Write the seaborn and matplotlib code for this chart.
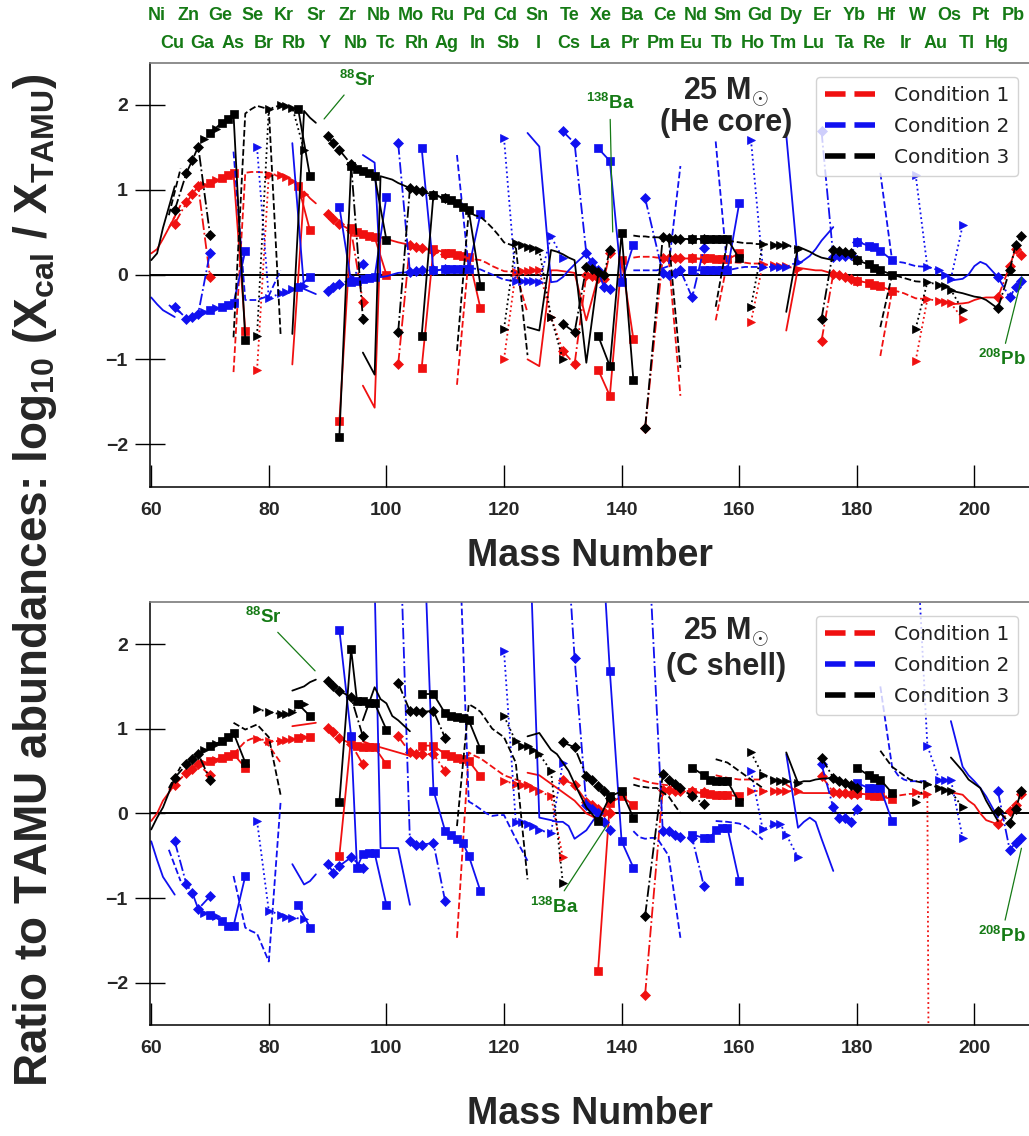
# Isotopic ratio chains for the two 25 Msun zones, three conditions each

import matplotlib
matplotlib.use("Agg")
import matplotlib.pyplot as plt
import seaborn as sns
from matplotlib.lines import Line2D
import numpy as np

# ---- data -------------------------------------------------------------
ELEMENTS = ["Ni", "Cu", "Zn", "Ga", "Ge", "Se", "Kr", "Rb", "Sr", "Zr", "Mo",
            "Ru", "Pd", "Cd", "Sn", "Te", "Xe", "Ba", "Ce", "Nd", "Sm", "Gd",
            "Dy", "Er", "Yb", "Hf", "W", "Os", "Pt", "Hg", "Pb"]

MASSES = [
    [60, 61, 62, 64], [63, 65], [64, 66, 67, 68, 70], [69, 71],
    [70, 72, 73, 74, 76], [74, 76, 77, 78, 80, 82], [78, 80, 82, 83, 84, 86],
    [85, 87], [84, 86, 87, 88], [90, 91, 92, 94, 96],
    [92, 94, 95, 96, 97, 98, 100], [96, 98, 99, 100, 101, 102, 104],
    [102, 104, 105, 106, 108, 110], [106, 108, 110, 111, 112, 113, 114, 116],
    [112, 114, 115, 116, 117, 118, 119, 120, 122, 124],
    [120, 122, 123, 124, 125, 126, 128, 130],
    [124, 126, 128, 129, 130, 131, 132, 134, 136],
    [130, 132, 134, 135, 136, 137, 138], [136, 138, 140, 142],
    [142, 143, 144, 145, 146, 148, 150], [144, 147, 148, 149, 150, 152, 154],
    [152, 154, 155, 156, 157, 158, 160], [156, 158, 160, 161, 162, 163, 164],
    [162, 164, 166, 167, 168, 170], [168, 170, 171, 172, 173, 174, 176],
    [174, 176, 177, 178, 179, 180], [180, 182, 183, 184, 186],
    [184, 186, 187, 188, 189, 190, 192], [190, 192, 194, 195, 196, 198],
    [196, 198, 199, 200, 201, 202, 204], [204, 206, 207, 208],
]

# He core
HE_COND1 = [
    [0.25, 0.3, 0.42, 0.68], [0.55, 0.82], [0.6, 0.85, 0.95, 1.04, -0.03], [1.06, 1.12],
    [1.08, 1.14, 1.17, 1.2, -0.66], [-1.15, 1.2, 1.21, 1.21, 1.2, 1.15],
    [-1.13, 1.18, 1.18, 1.15, 1.1, 0.95], [1.05, 0.52], [-1.06, 0.98, 0.9, 0.84],
    [0.72, 0.66, 0.6, 0.52, -0.32], [-1.73, 0.55, 0.5, 0.48, 0.46, 0.44, 0.0],
    [-1.31, -1.57, 0.44, 0.42, 0.4, 0.38, 0.35], [-1.06, 0.35, 0.33, 0.31, 0.28, 0.24],
    [-1.1, 0.3, 0.26, 0.25, 0.23, 0.22, 0.21, -0.4],
    [-1.3, 0.2, 0.18, 0.17, 0.14, 0.1, 0.07, 0.04, 0.03, -0.45],
    [-1.0, 0.03, 0.04, 0.04, 0.05, 0.05, -0.5, -0.9],
    [-1.0, -1.08, 0.05, 0.05, 0.04, 0.03, 0.02, -0.54, -0.03],
    [-0.9, -1.06, 0.0, -0.02, -0.04, -0.05, 0.25], [-1.12, -1.43, 0.17, -0.76],
    [0.2, 0.21, 0.21, 0.21, 0.2, 0.2, -1.43], [-1.81, 0.2, 0.2, 0.19, 0.19, 0.19, 0.18],
    [0.19, 0.19, 0.19, 0.18, 0.18, 0.18, 0.25], [-0.54, 0.15, 0.14, 0.14, 0.13, 0.13, 0.13],
    [-0.56, 0.12, 0.11, 0.1, 0.1, 0.06], [-0.66, 0.08, 0.07, 0.06, 0.05, 0.05, 0.01],
    [-0.78, 0.01, -0.01, -0.03, -0.05, -0.07], [-0.07, -0.1, -0.12, -0.14, -0.19],
    [-0.96, -0.19, -0.2, -0.22, -0.25, -0.28, -0.29],
    [-1.02, -0.29, -0.31, -0.32, -0.34, -0.52],
    [-0.35, -0.34, -0.33, -0.3, -0.28, -0.27, -0.27], [-0.27, 0.1, 0.3, 0.23],
]
HE_COND2 = [
    [-0.27, -0.35, -0.42, -0.5], [-0.36, -0.45], [-0.38, -0.52, -0.5, -0.46, 0.26],
    [-0.44, -0.4], [-0.42, -0.38, -0.36, -0.34, 0.28], [1.45, -0.3, -0.3, -0.3, -0.25, 0.05],
    [1.5, -0.28, -0.22, -0.2, -0.17, -0.14], [-0.15, -0.03], [1.55, -0.17, -0.2, -0.23],
    [-0.19, -0.15, -0.11, -0.06, 0.13], [0.8, -0.09, -0.07, -0.05, -0.04, -0.03, 0.92],
    [1.41, 1.32, -0.03, -0.02, 0.0, 0.02, 0.03], [1.55, 0.03, 0.04, 0.05, 0.05, 0.06],
    [1.49, 0.05, 0.06, 0.06, 0.07, 0.07, 0.07, 0.72],
    [1.41, 0.07, 0.07, 0.06, 0.03, 0.0, -0.03, -0.06, -0.08, -0.1],
    [1.61, -0.07, -0.07, -0.08, -0.08, -0.09, 0.45, 0.19],
    [1.67, 1.51, -0.09, -0.08, -0.03, 0.05, 0.12, 0.25, 0.0],
    [1.69, 1.55, 0.25, 0.15, 0.05, -0.15, -0.17], [1.49, 1.34, -0.09, 0.35],
    [0.05, 0.05, 0.05, 0.05, 0.05, 0.1, 1.28], [0.9, 0.02, 0.0, 0.02, 0.05, -0.27, 0.31],
    [0.05, 0.05, 0.05, 0.05, 0.05, 0.05, 0.84], [1.57, 0.05, 0.08, 0.09, 0.09, 0.09, 0.09],
    [1.59, 0.09, 0.09, 0.09, 0.09, 0.15], [1.65, 0.12, 0.17, 0.22, 0.3, 0.4, 0.56],
    [1.69, 0.21, 0.22, 0.22, 0.23, 0.39], [0.39, 0.34, 0.32, 0.28, 0.17],
    [1.2, 0.17, 0.15, 0.14, 0.12, 0.1, 0.09], [1.18, 0.09, 0.05, 0.0, -0.05, 0.58],
    [-0.07, -0.05, 0.0, 0.1, 0.15, 0.12, -0.03], [-0.03, -0.27, -0.15, -0.07],
]
HE_COND3 = [
    [0.17, 0.25, 0.55, 1.04], [0.7, 1.25], [0.76, 1.2, 1.35, 1.51, 0.47], [1.6, 1.72],
    [1.67, 1.79, 1.84, 1.89, -0.77], [-0.74, 1.9, 1.95, 1.99, 1.95, -0.7],
    [-0.72, 1.95, 2.0, 1.99, 1.97, 1.47], [1.95, 1.16], [-0.7, 1.93, 1.85, 1.79],
    [1.63, 1.55, 1.47, 1.3, -0.52], [-1.91, 1.28, 1.25, 1.22, 1.2, 1.16, 0.41],
    [-0.92, -1.18, 1.16, 1.14, 1.12, 1.08, 1.02], [-0.68, 1.02, 1.0, 0.98, 0.94, 0.9],
    [-0.72, 0.94, 0.9, 0.88, 0.84, 0.8, 0.76, -0.13],
    [-0.9, 0.74, 0.7, 0.68, 0.62, 0.55, 0.47, 0.38, 0.33, -0.95],
    [-0.64, 0.37, 0.35, 0.33, 0.31, 0.29, -0.5, -1.0],
    [-0.62, -0.66, 0.29, 0.27, 0.24, 0.2, 0.17, -1.04, 0.0],
    [-0.58, -0.68, 0.09, 0.06, 0.03, 0.0, 0.29], [-0.72, -1.08, 0.49, -1.24],
    [0.46, 0.45, 0.45, 0.44, 0.44, 0.43, -1.1], [-1.81, 0.44, 0.43, 0.42, 0.42, 0.42, 0.42],
    [0.42, 0.42, 0.42, 0.42, 0.42, 0.42, 0.19], [-0.38, 0.4, 0.38, 0.37, 0.37, 0.36, 0.36],
    [-0.38, 0.36, 0.35, 0.35, 0.35, 0.3], [-0.44, 0.33, 0.3, 0.27, 0.23, 0.2, 0.17],
    [-0.52, 0.29, 0.28, 0.27, 0.25, 0.17], [0.17, 0.12, 0.08, 0.05, 0.0],
    [-0.62, 0.0, -0.02, -0.04, -0.06, -0.08, -0.09],
    [-0.64, -0.09, -0.12, -0.14, -0.18, -0.42],
    [-0.19, -0.22, -0.24, -0.26, -0.27, -0.3, -0.4], [-0.4, 0.05, 0.35, 0.45],
]

# C shell
CSH_COND1 = [
    [-0.09, 0.0, 0.15, 0.34], [0.28, 0.45], [0.34, 0.48, 0.53, 0.58, 0.45], [0.6, 0.63],
    [0.62, 0.66, 0.68, 0.7, 0.54], [0.7, 0.85, 0.88, 0.9, 0.8, 0.6],
    [0.88, 0.86, 0.85, 0.87, 0.88, 0.9], [0.89, 0.9], [1.03, 1.05, 1.06, 1.07],
    [1.01, 0.96, 0.89, 0.82, 0.58], [-0.5, 0.9, 0.8, 0.78, 0.78, 0.78, 0.58],
    [0.85, 0.8, 0.78, 0.76, 0.74, 0.72, 0.68], [0.91, 0.72, 0.7, 0.7, 0.7, 0.5],
    [0.8, 0.8, 0.7, 0.68, 0.66, 0.64, 0.62, 0.44],
    [-1.47, 0.72, 0.68, 0.65, 0.6, 0.55, 0.5, 0.45, 0.4, 0.35],
    [0.38, 0.35, 0.34, 0.33, 0.3, 0.26, 0.2, -0.52],
    [0.48, 0.45, 0.35, 0.3, 0.25, 0.2, 0.15, 0.0, -0.07],
    [0.4, 0.34, 0.14, 0.1, 0.05, 0.02, 0.0], [-1.86, 0.12, 0.2, 0.1],
    [0.42, 0.4, 0.38, 0.36, 0.35, 0.33, 0.3], [-2.14, 0.28, 0.28, 0.27, 0.27, 0.26, 0.25],
    [0.25, 0.24, 0.23, 0.22, 0.22, 0.22, 0.2], [0.45, 0.42, 0.4, 0.4, 0.4, 0.4, 0.4],
    [0.26, 0.26, 0.26, 0.26, 0.26, 0.26], [0.34, 0.25, 0.24, 0.24, 0.24, 0.24, 0.24],
    [0.44, 0.25, 0.24, 0.24, 0.23, 0.23], [0.24, 0.22, 0.21, 0.2, 0.17],
    [0.2, 0.2, 0.21, 0.22, 0.23, 0.23, 0.23], [0.25, 0.23, -30.0, -30.0, -30.0, -30.0],
    [0.25, 0.22, 0.15, 0.1, 0.0, -0.08, -0.13], [-0.13, 0.03, 0.1, 0.23],
]
CSH_COND2 = [
    [-0.33, -0.55, -0.75, -0.96], [-0.43, -0.8], [-0.33, -0.84, -0.94, -1.13, -0.98],
    [-1.18, -1.21], [-1.2, -1.27, -1.33, -1.33, -0.74],
    [-0.74, -1.35, -1.39, -1.42, -1.75, 0.13], [-0.09, -1.15, -1.2, -1.22, -1.23, -1.25],
    [-1.08, -1.35], [-0.6, -0.84, -0.8, -0.72], [-0.6, -0.7, -0.62, -0.52, -0.64],
    [2.17, 0.91, -0.64, -0.48, -0.47, -0.47, -1.08],
    [4.0, 2.7, -0.41, -0.41, -0.41, -0.41, -1.08], [4.0, -0.33, -0.37, -0.37, -0.35, -1.04],
    [4.0, 0.27, -0.21, -0.25, -0.3, -0.35, -0.5, -0.92],
    [4.0, 0.14, 0.1, 0.05, 0.0, -0.03, -0.02, -0.02, -0.3, -0.56],
    [1.92, -0.1, -0.1, -0.12, -0.15, -0.2, -0.23, 0.6],
    [4.0, -0.05, -0.08, -0.1, -0.1, -0.15, -0.3, -0.2, 0.0],
    [4.0, 1.84, 0.1, 0.05, 0.0, -0.1, -0.2], [4.0, 1.68, -0.33, -0.64],
    [-0.21, -0.28, -0.3, -0.29, -0.29, -0.5, -1.47],
    [4.0, -0.21, -0.21, -0.25, -0.28, -0.29, -0.86],
    [-0.25, -0.29, -0.29, -0.2, -0.17, -0.17, -0.8],
    [-0.09, -0.1, -0.12, -0.15, -0.2, -0.25, -0.31], [0.5, -0.19, -0.13, -0.13, -0.25, -0.52],
    [0.7, -0.17, -0.1, -0.05, -0.1, -0.3, -0.68], [0.58, 0.07, -0.05, -0.05, -0.1, 0.05],
    [0.36, 0.3, 0.3, 0.3, -0.09], [1.5, 0.55, 0.45, 0.4, 0.38, 0.38, 0.38],
    [3.5, 0.8, 0.4, 0.4, 0.4, -0.29], [1.09, 0.55, 0.45, 0.38, 0.3, 0.2, -0.05],
    [0.26, -0.43, -0.35, -0.29],
]
CSH_COND3 = [
    [-0.19, -0.05, 0.07, 0.42], [0.3, 0.55], [0.42, 0.58, 0.64, 0.7, 0.4], [0.75, 0.82],
    [0.8, 0.85, 0.9, 0.95, 0.6], [1.07, 0.99, 1.02, 1.05, 0.9, 0.22],
    [1.23, 1.2, 1.17, 1.17, 1.2, 1.29], [1.29, 1.15], [1.45, 1.5, 1.55, 1.58],
    [1.56, 1.5, 1.45, 1.37, 0.91], [0.13, 1.94, 1.33, 1.33, 1.3, 1.3, 0.99],
    [1.1, 1.49, 1.35, 1.3, 1.15, 1.1, 0.97], [1.54, 1.21, 1.21, 1.2, 1.21, 0.89],
    [1.41, 1.41, 1.18, 1.15, 1.14, 1.13, 1.1, 0.76],
    [-0.15, 1.29, 1.25, 1.2, 1.1, 1.0, 0.95, 0.9, 0.6, -0.78],
    [1.15, 0.85, 0.8, 0.8, 0.75, 0.7, 0.5, -0.82],
    [0.91, 0.95, 0.75, 0.7, 0.6, 0.5, 0.35, 0.07, -0.09],
    [0.84, 0.78, 0.44, 0.4, 0.32, 0.26, 0.18], [-0.09, 0.2, 0.26, -0.05],
    [0.34, 0.32, 0.31, 0.3, 0.3, 0.2, 0.0], [-1.21, 0.46, 0.4, 0.35, 0.3, 0.2, 0.11],
    [0.54, 0.45, 0.4, 0.38, 0.38, 0.38, 0.13], [0.64, 0.6, 0.5, 0.45, 0.4, 0.35, 0.3],
    [0.72, 0.45, 0.4, 0.38, 0.38, 0.36], [0.72, 0.36, 0.38, 0.38, 0.4, 0.41, 0.42],
    [0.66, 0.42, 0.38, 0.36, 0.34, 0.3], [0.54, 0.45, 0.42, 0.4, 0.24],
    [0.74, 0.55, 0.5, 0.45, 0.4, 0.38, 0.35], [0.14, 0.35, 0.3, 0.28, 0.26, 0.07],
    [0.66, 0.5, 0.4, 0.35, 0.3, 0.15, -0.09], [0.03, -0.11, 0.05, 0.27],
]

CONDITIONS = ["Condition 1", "Condition 2", "Condition 3"]
TOP_ROW = ["Ni", "Zn", "Ge", "Se", "Kr", "Sr", "Zr", "Nb", "Mo", "Ru", "Pd", "Cd", "Sn", "Te",
           "Xe", "Ba", "Ce", "Nd", "Sm", "Gd", "Dy", "Er", "Yb", "Hf", "W", "Os", "Pt", "Pb"]
BOTTOM_ROW = ["Cu", "Ga", "As", "Br", "Rb", "Y", "Nb", "Tc", "Rh", "Ag", "In", "Sb", "I", "Cs",
              "La", "Pr", "Pm", "Eu", "Tb", "Ho", "Tm", "Lu", "Ta", "Re", "Ir", "Au", "Tl", "Hg"]

# ---- styling ----------------------------------------------------------
COLORS = ["#f01010", "#1010f0", "black"]
STYLE_OF = {
    "Ni": ("-", None), "Cu": ("--", None), "Zn": ("-.", "D"), "Ga": (":", ">"),
    "Ge": ("-", "s"), "Se": ("--", None), "Kr": (":", ">"), "Rb": ("-", "s"),
    "Sr": ("-", None), "Zr": ("-.", "D"), "Mo": ("-", "s"), "Ru": ("-", None),
    "Pd": ("-.", "D"), "Cd": ("-", "s"), "Sn": ("--", None), "Te": (":", ">"),
    "Xe": ("-", None), "Ba": ("-.", "D"), "Ce": ("-", "s"), "Nd": ("--", None),
    "Sm": ("-.", "D"), "Gd": ("-", "s"), "Dy": ("--", None), "Er": (":", ">"),
    "Yb": ("-", None), "Hf": ("-.", "D"), "W": ("-", "s"), "Os": ("--", None),
    "Pt": (":", ">"), "Hg": ("-", None), "Pb": ("-.", "D"),
}
GREEN = "#157a15"

sns.set_style("white")
plt.rcParams["font.family"] = ["Liberation Sans", "DejaVu Sans"]
plt.rcParams["mathtext.fontset"] = "custom"
plt.rcParams["mathtext.rm"] = "Liberation Sans:bold"
plt.rcParams["mathtext.bf"] = "Liberation Sans:bold"
plt.rcParams["mathtext.default"] = "bf"
NARROW = ["Liberation Sans Narrow", "Liberation Sans"]

fig = plt.figure(figsize=(10.29, 11.36), dpi=100)
ax_top = fig.add_axes([0.1458, 0.5717, 0.856, 0.3732])
ax_bot = fig.add_axes([0.1458, 0.0977, 0.856, 0.3726])


def draw_panel(ax, conds, zone, title_y):
    for series, color in zip(conds, COLORS):
        for el, masses, vals in zip(ELEMENTS, MASSES, series):
            ls, mk = STYLE_OF[el]
            kw = dict(marker=mk, markersize=5.5, mec=color, mfc=color, mew=0.5) if mk else {}
            sns.lineplot(x=masses, y=vals, ax=ax, color=color, linestyle=ls, lw=1.3,
                         sort=False, estimator=None, legend=False, **kw)
    ax.axhline(0, color="black", lw=1.4, zorder=1)
    ax.set_xlim(59.8, 209.6)
    ax.set_ylim(-2.5, 2.5)
    ax.set_xticks(np.arange(60, 201, 20))
    ax.set_yticks([-2, -1, 0, 1, 2])
    ax.set_yticklabels(["\u22122", "\u22121", "0", "1", "2"])
    ax.tick_params(axis="x", bottom=True, direction="in", length=16, width=1, pad=11,
                   labelsize=14, color="black")
    ax.tick_params(axis="y", left=True, direction="inout", length=22, width=1, pad=5,
                   labelsize=14, color="black")
    for lab in ax.get_xticklabels() + ax.get_yticklabels():
        lab.set_fontfamily(NARROW)
        lab.set_fontweight("bold")
    for side in ["left", "bottom"]:
        ax.spines[side].set_color("black")
        ax.spines[side].set_linewidth(1.1)
    ax.spines["top"].set_color("#7a7a7a")
    ax.spines["top"].set_linewidth(1.2)
    ax.spines["right"].set_visible(False)
    ax.text(157.8, title_y[0], r"25 M$_{\odot}$", ha="center", va="center",
            fontsize=22, fontweight="bold")
    ax.text(157.8, title_y[1], zone, ha="center", va="center",
            fontsize=22, fontweight="bold")
    handles = [Line2D([0], [0], color=c, lw=4, linestyle="--") for c in COLORS]
    leg = ax.legend(handles, CONDITIONS, loc="upper right", bbox_to_anchor=(0.997, 0.99),
                    fontsize=14.5, handlelength=2.6, borderpad=0.45, labelspacing=0.6,
                    frameon=True, fancybox=True, edgecolor="#c8c8c8")
    for t in leg.get_texts():
        t.set_fontfamily(["DejaVu Sans"])
        t.set_color("#222222")


draw_panel(ax_top, [HE_COND1, HE_COND2, HE_COND3], "(He core)", (2.16, 1.79))
draw_panel(ax_bot, [CSH_COND1, CSH_COND2, CSH_COND3], "(C shell)", (2.15, 1.73))

ax_top.set_xlabel("Mass Number", fontsize=27, fontweight="bold", labelpad=14)
ax_bot.set_xlabel("Mass Number", fontsize=27, fontweight="bold", labelpad=28)

# isotope annotations
ann = dict(color=GREEN, fontsize=13.5, fontweight="bold", ha="center", va="center")
line = dict(arrowstyle="-", color=GREEN, lw=0.9)
ax_top.annotate(r"$^{88}$Sr", xy=(89.1, 1.81), xytext=(95.0, 2.3), arrowprops=line, **ann)
ax_top.annotate(r"$^{138}$Ba", xy=(138.5, 0.47), xytext=(138.0, 2.02), arrowprops=line, **ann)
ax_top.annotate(r"$^{208}$Pb", xy=(208.2, 0.0), xytext=(204.6, -1.0), arrowprops=line, **ann)
ax_bot.annotate(r"$^{88}$Sr", xy=(88.2, 1.66), xytext=(79.0, 2.32), arrowprops=line, **ann)
ax_bot.annotate(r"$^{138}$Ba", xy=(137.7, -0.12), xytext=(128.5, -1.1), arrowprops=line, **ann)
ax_bot.annotate(r"$^{208}$Pb", xy=(208.1, -0.38), xytext=(204.6, -1.45), arrowprops=line, **ann)

# element names along the top
for name, xp in zip(TOP_ROW, np.linspace(157, 1013, len(TOP_ROW))):
    fig.text(xp / 1029, 1 - 16 / 1136, name, color=GREEN, fontsize=13, fontweight="bold",
             family=NARROW, ha="center", va="center")
for name, xp in zip(BOTTOM_ROW, np.linspace(172, 997, len(BOTTOM_ROW))):
    fig.text(xp / 1029, 1 - 43 / 1136, name, color=GREEN, fontsize=13, fontweight="bold",
             family=NARROW, ha="center", va="center")

fig.text(0.034, 0.489, r"Ratio to TAMU abundances: log$_{10}$ (X$_{cal}$ / X$_{TAMU}$)",
         rotation=90, ha="center", va="center", fontsize=33, fontweight="bold")

fig.savefig("out.png", dpi=100)
